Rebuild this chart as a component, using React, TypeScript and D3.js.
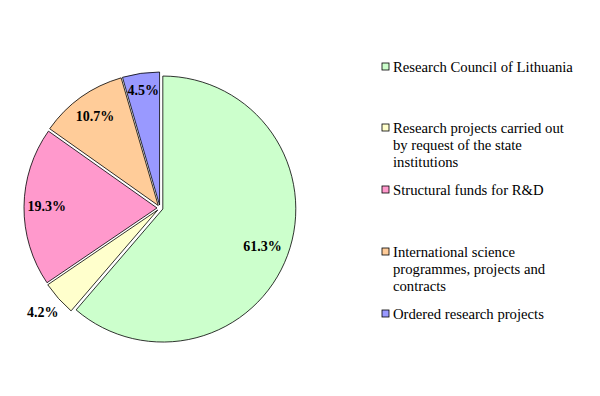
import React, { useRef, useEffect } from "react";
import * as d3 from "d3";

// funding sources and their shares (%)
const categories = [
  "Research Council of Lithuania",
  "Research projects carried out by request of the state institutions",
  "Structural funds for R&D",
  "International science programmes, projects and contracts",
  "Ordered research projects",
];
const values = [61.3, 4.2, 19.3, 10.7, 4.5];
const valueLabels = ["61.3%", "4.2%", "19.3%", "10.7%", "4.5%"];
const legendLines = [
  ["Research Council of Lithuania"],
  ["Research projects carried out", "by request of the state", "institutions"],
  ["Structural funds for R&D"],
  ["International science", "programmes, projects and", "contracts"],
  ["Ordered research projects"],
];
const colors = ["#CCFFCC", "#FFFFCC", "#FF99CC", "#FFCC99", "#9999FF"];

function App() {
  const svgRef = useRef<SVGSVGElement>(null);

  useEffect(() => {
    const w = 600;
    const h = 396;
    const svg = d3.select(svgRef.current).attr("width", w).attr("height", h);
    svg.selectAll("*").remove();

    const font = "'Liberation Serif', 'Times New Roman', serif";
    const cx = 160;
    const cy = 208;
    const r = 133;
    const explode = 3;

    const pie = d3
      .pie<number>()
      .sort(null)
      .value((d) => d);
    const arcs = pie(values);
    const arc = d3.arc<d3.PieArcDatum<number>>().innerRadius(0).outerRadius(r);

    // label distance as fraction of radius (small yellow slice sits outside)
    const labelFactor = [0.8, 1.16, 0.83, 0.82, 0.87];

    const g = svg.append("g").attr("transform", `translate(${cx},${cy})`);

    const slice = g
      .selectAll("g.slice")
      .data(arcs)
      .enter()
      .append("g")
      .attr("class", "slice")
      .attr("transform", (d) => {
        const a = (d.startAngle + d.endAngle) / 2;
        return `translate(${Math.sin(a) * explode},${-Math.cos(a) * explode})`;
      });

    slice
      .append("path")
      .attr("d", arc)
      .attr("fill", (d, i) => colors[i])
      .attr("stroke", "#000")
      .attr("stroke-width", 0.8);

    slice
      .append("text")
      .attr("x", (d, i) => Math.sin((d.startAngle + d.endAngle) / 2) * r * labelFactor[i])
      .attr("y", (d, i) => -Math.cos((d.startAngle + d.endAngle) / 2) * r * labelFactor[i])
      .attr("text-anchor", "middle")
      .attr("dominant-baseline", "central")
      .style("font-family", font)
      .style("font-size", "14px")
      .style("font-weight", "bold")
      .text((d, i) => valueLabels[i]);

    // legend
    const legendY = [67, 128, 190, 252, 314];
    const lineH = 17;
    const legend = svg
      .selectAll("g.legend")
      .data(categories)
      .enter()
      .append("g")
      .attr("class", "legend")
      .attr("transform", (d, i) => `translate(382,${legendY[i]})`);

    legend
      .append("rect")
      .attr("x", 0)
      .attr("y", -4)
      .attr("width", 7)
      .attr("height", 7)
      .attr("fill", (d, i) => colors[i])
      .attr("stroke", "#000")
      .attr("stroke-width", 0.8);

    legend.each(function (d, i) {
      const t = d3
        .select(this)
        .append("text")
        .attr("x", 11)
        .attr("y", 0)
        .style("font-family", font)
        .style("font-size", "14.7px")
        .attr("dominant-baseline", "central");
      legendLines[i].forEach((line, j) => {
        t.append("tspan").attr("x", 11).attr("y", j * lineH).text(line);
      });
    });
  }, []);

  return (
    <div style={{ margin: -8 }}>
      <svg ref={svgRef} style={{ display: "block" }}></svg>
    </div>
  );
}

export default App;
